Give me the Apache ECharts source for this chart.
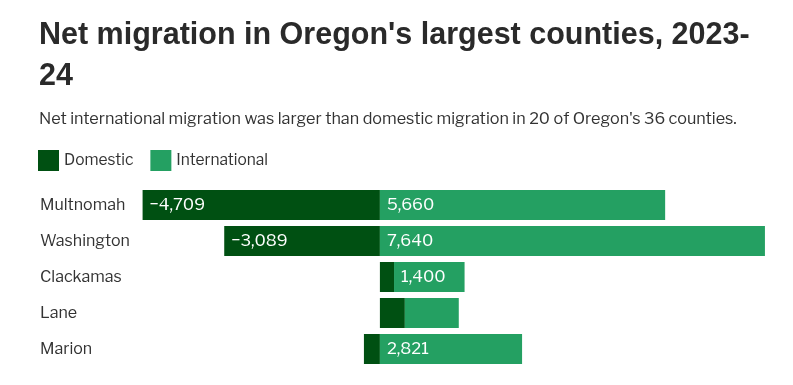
<!DOCTYPE html>
<html>
<head>
<meta charset="utf-8">
<script src="https://cdn.jsdelivr.net/npm/echarts@6/dist/echarts.min.js"></script>
<style>
html,body{margin:0;padding:0;background:#fff;}
#chart{width:793px;height:385px;}
</style>
</head>
<body>
<div id="chart"></div>
<script>
const counties = ['Multnomah', 'Washington', 'Clackamas', 'Lane', 'Marion'];
const domestic = [-4709, -3089, 280, 495, -317];
const international = [5660, 7640, 1400, 1070, 2821];

const DARK = '#005012';
const LIGHT = '#24a062';
const FONT = "'Libre Franklin', 'Liberation Sans', Arial, sans-serif";

function fmt(v) {
  const s = Math.abs(v).toLocaleString('en-US');
  return (v < 0 ? '\u2212' : '') + s;
}

const chart = echarts.init(document.getElementById('chart'), null, {renderer: 'canvas'});
chart.setOption({
  animation: false,
  backgroundColor: '#fff',
  title: {
    text: "Net migration in Oregon's largest counties, 2023-\n24",
    left: 34,
    top: 10,
    textStyle: {
      fontFamily: "'Liberation Sans', Arial, sans-serif",
      fontWeight: 'bold',
      fontSize: 30.5,
      lineHeight: 41,
      color: '#2a2a2a'
    },
    subtext: "Net international migration was larger than domestic migration in 20 of Oregon's 36 counties.",
    itemGap: 14,
    subtextStyle: {
      fontFamily: FONT,
      fontSize: 16.2,
      color: '#333'
    }
  },
  legend: {
    left: 33,
    top: 145,
    itemWidth: 21,
    itemHeight: 21,
    itemGap: 17,
    icon: 'rect',
    textStyle: {fontFamily: FONT, fontSize: 15.5, color: '#333'},
    data: ['Domestic', 'International']
  },
  grid: {left: 138, width: 635, top: 187, height: 180, containLabel: false},
  xAxis: {
    type: 'value',
    min: -4800,
    max: 7800,
    show: false
  },
  yAxis: {
    type: 'category',
    inverse: true,
    data: counties,
    axisLine: {show: false},
    axisTick: {show: false},
    axisLabel: {
      align: 'left',
      margin: 98,
      fontFamily: FONT,
      fontSize: 16,
      color: '#333'
    }
  },
  series: [
    {
      name: 'Domestic',
      type: 'bar',
      stack: 'm',
      data: domestic,
      barWidth: 30,
      itemStyle: {color: DARK},
      label: {
        show: true,
        position: 'insideLeft',
        distance: 7,
        color: '#fff',
        fontFamily: FONT,
        fontSize: 16.5,
        formatter: p => Math.abs(p.value) >= 1200 ? fmt(p.value) : ''
      }
    },
    {
      name: 'International',
      type: 'bar',
      stack: 'm',
      data: international,
      barWidth: 30,
      itemStyle: {color: LIGHT},
      label: {
        show: true,
        position: 'insideLeft',
        distance: 7,
        color: '#fff',
        fontFamily: FONT,
        fontSize: 16.5,
        formatter: p => Math.abs(p.value) >= 1200 ? fmt(p.value) : ''
      }
    }
  ]
});
</script>
</body>
</html>
